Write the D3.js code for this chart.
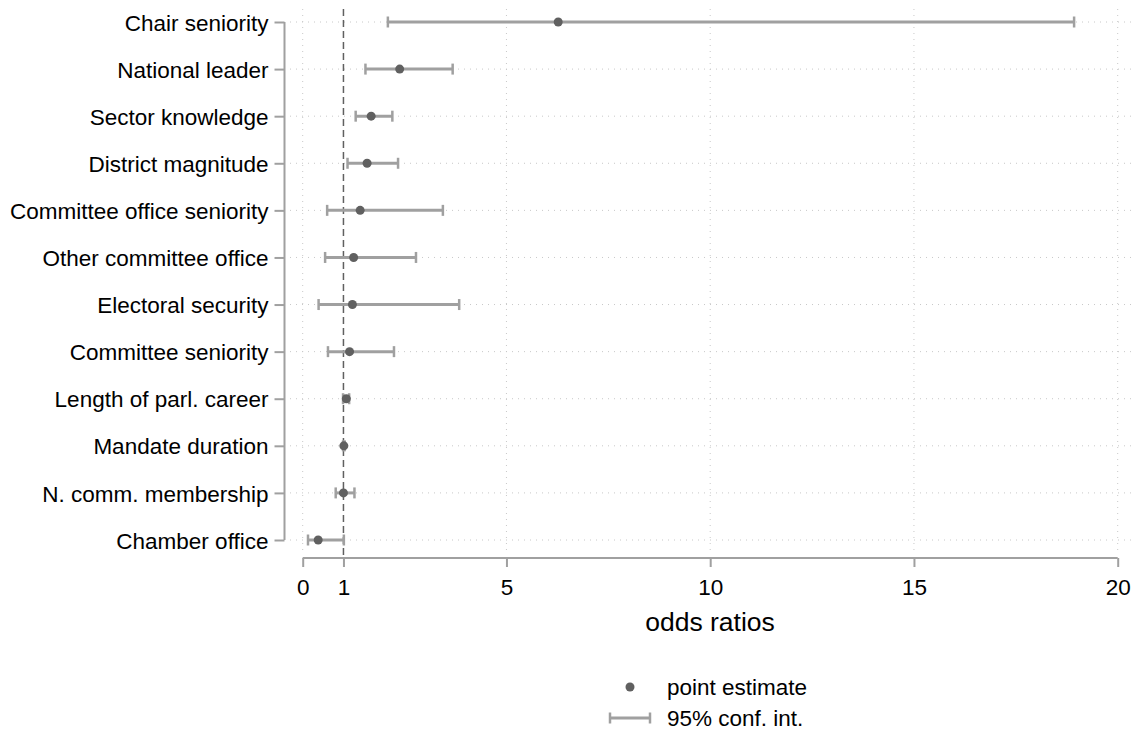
<!DOCTYPE html>
<html>
<head>
<script src="https://d3js.org/d3.v7.min.js"></script>
<style>
body { margin: 0; background: #fff; }
svg { display: block; font-family: "Liberation Sans", Arial, sans-serif; }
</style>
</head>
<body>
<script>
// variables, top to bottom
var labels = ["Chair seniority", "National leader", "Sector knowledge", "District magnitude",
  "Committee office seniority", "Other committee office", "Electoral security",
  "Committee seniority", "Length of parl. career", "Mandate duration",
  "N. comm. membership", "Chamber office"];
var estimates = [6.27, 2.38, 1.68, 1.58, 1.41, 1.25, 1.22, 1.15, 1.07, 1.01, 1.00, 0.38];
var lower = [2.09, 1.54, 1.30, 1.10, 0.60, 0.55, 0.39, 0.62, 0.99, 0.99, 0.81, 0.13];
var upper = [18.93, 3.68, 2.20, 2.34, 3.44, 2.78, 3.84, 2.24, 1.14, 1.03, 1.27, 1.01];
var xTicks = [0, 1, 5, 10, 15, 20];
var gridX = [0, 5, 10, 15, 20];

var width = 1139, height = 736;
var svg = d3.select("body").append("svg").attr("width", width).attr("height", height);

var x = d3.scaleLinear().domain([0, 20]).range([302.7, 1117.7]);
var y = d3.scalePoint().domain(labels).range([22, 540]);

var data = labels.map(function(l, i) {
  return {name: l, est: estimates[i], lo: lower[i], hi: upper[i]};
});

var grid = svg.append("g");
// horizontal dotted grid
grid.selectAll("line.h").data(labels).enter().append("line")
  .attr("x1", 290).attr("x2", 1135)
  .attr("y1", function(d) { return y(d); }).attr("y2", function(d) { return y(d); })
  .style("stroke", "#c8c8c8").style("stroke-width", 1).style("stroke-dasharray", "1,5");
// vertical dotted grid
grid.selectAll("line.v").data(gridX).enter().append("line")
  .attr("x1", function(d) { return x(d); }).attr("x2", function(d) { return x(d); })
  .attr("y1", 9).attr("y2", 552)
  .style("stroke", "#c8c8c8").style("stroke-width", 1).style("stroke-dasharray", "1,5");

// reference line at 1
svg.append("line")
  .attr("x1", x(1)).attr("x2", x(1)).attr("y1", 9).attr("y2", 558)
  .style("stroke", "#606060").style("stroke-width", 1.5).style("stroke-dasharray", "7,4");

// y axis (Stata style: line spans tick range)
var yAxis = d3.axisLeft(y).tickSize(10).tickPadding(6);
var gy = svg.append("g").attr("transform", "translate(284.5,0)").call(yAxis);
gy.select(".domain").remove();
gy.append("line").attr("x1", 0).attr("x2", 0).attr("y1", y(labels[0])).attr("y2", y(labels[labels.length - 1]))
  .style("stroke", "#a0a0a0").style("stroke-width", 2);
gy.selectAll(".tick line").style("stroke", "#a0a0a0").style("stroke-width", 2);
gy.selectAll(".tick text").style("font-size", "22.5px").style("fill", "#000").attr("dy", "0.36em");

// x axis
var xAxis = d3.axisBottom(x).tickValues(xTicks).tickSize(9).tickPadding(12).tickSizeOuter(0);
var gx = svg.append("g").attr("transform", "translate(0,558)").call(xAxis);
gx.select(".domain").style("stroke", "#a0a0a0").style("stroke-width", 2)
  .attr("d", "M" + x(0) + ",0H" + x(20));
gx.selectAll(".tick line").style("stroke", "#a0a0a0").style("stroke-width", 2);
gx.selectAll(".tick text").style("font-size", "22.5px").style("fill", "#000");

svg.append("text").attr("x", 710).attr("y", 631).attr("text-anchor", "middle")
  .style("font-size", "26.5px").text("odds ratios");

// confidence intervals
var ci = svg.append("g").selectAll("g").data(data).enter().append("g");
ci.append("line")
  .attr("x1", function(d) { return x(d.lo); }).attr("x2", function(d) { return x(d.hi); })
  .attr("y1", function(d) { return y(d.name); }).attr("y2", function(d) { return y(d.name); })
  .style("stroke", "#a0a0a0").style("stroke-width", 3);
ci.selectAll("line.cap").data(function(d) { return [[d.lo, d.name], [d.hi, d.name]]; })
  .enter().append("line").attr("class", "cap")
  .attr("x1", function(d) { return x(d[0]); }).attr("x2", function(d) { return x(d[0]); })
  .attr("y1", function(d) { return y(d[1]) - 5.5; }).attr("y2", function(d) { return y(d[1]) + 5.5; })
  .style("stroke", "#a0a0a0").style("stroke-width", 2.5);

// point estimates
svg.append("g").selectAll("circle").data(data).enter().append("circle")
  .attr("cx", function(d) { return x(d.est); }).attr("cy", function(d) { return y(d.name); })
  .attr("r", 4.5).style("fill", "#606060");

// legend
var lg = svg.append("g");
lg.append("circle").attr("cx", 630).attr("cy", 687).attr("r", 4.5).style("fill", "#606060");
lg.append("text").attr("x", 667).attr("y", 695).style("font-size", "22.5px").text("point estimate");
lg.append("line").attr("x1", 610).attr("x2", 650).attr("y1", 718).attr("y2", 718)
  .style("stroke", "#a0a0a0").style("stroke-width", 3);
[610, 650].forEach(function(px) {
  lg.append("line").attr("x1", px).attr("x2", px).attr("y1", 712.5).attr("y2", 723.5)
    .style("stroke", "#a0a0a0").style("stroke-width", 2.5);
});
lg.append("text").attr("x", 667).attr("y", 726).style("font-size", "22.5px").text("95% conf. int.");
</script>
</body>
</html>
